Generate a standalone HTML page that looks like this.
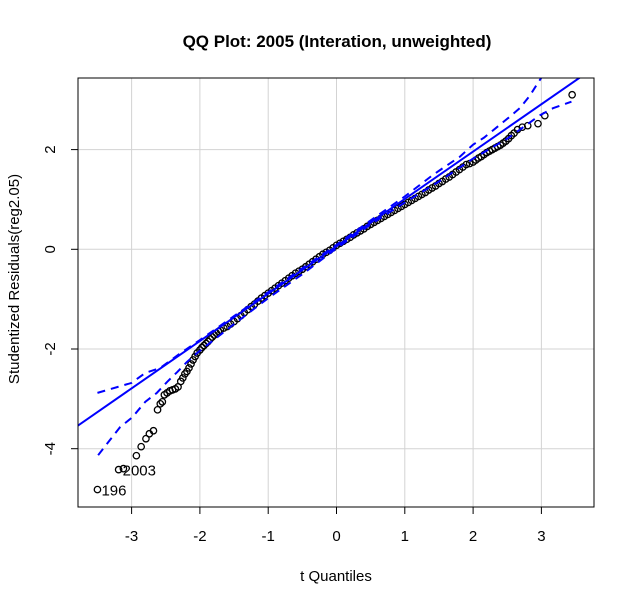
<!DOCTYPE html>
<html><head><meta charset="utf-8"><style>
body{margin:0;background:#fff;}
svg{display:block;font-family:"Liberation Sans",Arial,sans-serif;}
</style></head><body>
<svg id="chart" width="635" height="604">
<rect width="635" height="604" fill="#fff"/>
<text x="337" y="47" text-anchor="middle" font-size="17" font-weight="bold">QQ Plot: 2005 (Interation, unweighted)</text>
<text x="336" y="581" text-anchor="middle" font-size="15">t Quantiles</text>
<text transform="translate(19,279) rotate(-90)" text-anchor="middle" font-size="15">Studentized Residuals(reg2.05)</text>
<g id="grid"></g><g id="axes"></g>
<defs><clipPath id="clip"><rect x="78" y="78" width="516" height="429"/></clipPath></defs>
<g id="pts"></g>
<g id="marks" clip-path="url(#clip)"></g>
<g id="labels"></g>
<rect x="78" y="78" width="516" height="429" fill="none" stroke="#000"/>
</svg>
<script>
const xTicks=[-3,-2,-1,0,1,2,3];
const yTicks=[-4,-2,0,2];
const lineIntercept=0.06, lineSlope=0.95;
const upperX=[-3.5,-3.2,-3,-2.8,-2.58,-2.3,-2,-1.5,-1,-0.5,0,0.5,1,1.41,1.58,1.8,2,2.16,2.34,2.52,2.69,2.83,2.95,3.05];
const upperY=[-2.88,-2.76,-2.68,-2.48,-2.38,-2.1,-1.82,-1.34,-0.86,-0.38,0.09,0.58,1.06,1.49,1.65,1.85,2.1,2.24,2.44,2.64,2.84,3.08,3.34,3.55];
const lowerX=[-3.49,-3.32,-3.17,-2.99,-2.8,-2.63,-2.48,-2.33,-2.19,-2.04,-1.5,-1,-0.5,0,0.5,1,1.5,2,2.5,2.98,3.17,3.44];
const lowerY=[-4.13,-3.83,-3.57,-3.37,-3.06,-2.88,-2.66,-2.46,-2.26,-2.08,-1.5,-0.98,-0.5,0.02,0.5,0.94,1.36,1.82,2.22,2.69,2.83,2.96];
const ptX=[-3.5,-3.19,-3.12,-2.93,-2.86,-2.79,-2.74,-2.68,-2.62,-2.58,-2.55,-2.52,-2.48,-2.44,-2.4,-2.36,-2.32,-2.28,-2.25,-2.22,-2.19,-2.16,-2.13,-2.1,-2.07,-2.04,-2.0,-1.97,-1.94,-1.91,-1.88,-1.85,-1.82,-1.79,-1.76,-1.73,-1.7,-1.65,-1.6,-1.55,-1.5,-1.45,-1.4,-1.35,-1.3,-1.25,-1.2,-1.15,-1.1,-1.05,-1.0,-0.95,-0.9,-0.85,-0.8,-0.75,-0.7,-0.65,-0.6,-0.55,-0.5,-0.45,-0.4,-0.35,-0.3,-0.25,-0.2,-0.15,-0.1,-0.05,0,0.05,0.1,0.15,0.2,0.25,0.3,0.35,0.4,0.45,0.5,0.55,0.6,0.65,0.7,0.75,0.8,0.85,0.9,0.95,1.0,1.05,1.1,1.15,1.2,1.25,1.3,1.35,1.4,1.45,1.5,1.55,1.6,1.65,1.7,1.75,1.8,1.85,1.9,1.95,2.0,2.04,2.08,2.12,2.16,2.2,2.24,2.28,2.32,2.36,2.4,2.44,2.48,2.52,2.56,2.6,2.65,2.72,2.8,2.95,3.05,3.45];
const ptY=[-4.82,-4.42,-4.4,-4.14,-3.96,-3.8,-3.7,-3.64,-3.22,-3.1,-3.06,-2.92,-2.88,-2.84,-2.82,-2.8,-2.76,-2.65,-2.58,-2.5,-2.45,-2.38,-2.3,-2.22,-2.15,-2.08,-2.02,-1.97,-1.93,-1.89,-1.85,-1.8,-1.76,-1.72,-1.68,-1.65,-1.62,-1.58,-1.55,-1.5,-1.45,-1.39,-1.33,-1.27,-1.21,-1.15,-1.1,-1.04,-0.98,-0.93,-0.88,-0.83,-0.78,-0.73,-0.68,-0.63,-0.58,-0.53,-0.48,-0.44,-0.4,-0.35,-0.3,-0.25,-0.2,-0.15,-0.1,-0.06,-0.02,0.03,0.08,0.12,0.16,0.2,0.24,0.29,0.33,0.37,0.41,0.46,0.5,0.54,0.58,0.62,0.66,0.7,0.74,0.78,0.82,0.86,0.9,0.94,0.98,1.02,1.06,1.1,1.14,1.19,1.23,1.27,1.32,1.36,1.41,1.45,1.5,1.55,1.6,1.65,1.7,1.72,1.75,1.79,1.83,1.86,1.9,1.94,1.97,2.0,2.03,2.06,2.09,2.13,2.17,2.22,2.28,2.33,2.4,2.45,2.48,2.52,2.68,3.1];
const labelIdx=[0,1];
const labelText=["196","2003"];
const NS="http://www.w3.org/2000/svg";
const X=t=>336.5+t*68.3, Y=v=>249.3-v*49.85;
function mk(tag,attrs,parent){const e=document.createElementNS(NS,tag);for(const k in attrs)e.setAttribute(k,attrs[k]);parent.appendChild(e);return e;}
const grid=document.getElementById('grid'),axes=document.getElementById('axes'),marks=document.getElementById('marks'),pts=document.getElementById('pts'),labels=document.getElementById('labels');
xTicks.forEach(t=>{
 const g=mk('line',{x1:X(t),x2:X(t),y1:78,y2:507,stroke:'#d3d3d3'},grid);
 
 
 const tk=mk('line',{x1:X(t),x2:X(t),y1:507,y2:514,stroke:'#000'},axes);
 
 
 const l=mk('text',{x:X(t),y:541,'text-anchor':'middle','font-size':'15'},axes);l.textContent=t;
 
 
});
yTicks.forEach(v=>{
 const g=mk('line',{x1:78,x2:594,y1:Y(v),y2:Y(v),stroke:'#d3d3d3'},grid);
 
 
 const tk=mk('line',{x1:71,x2:78,y1:Y(v),y2:Y(v),stroke:'#000'},axes);
 
 
 const l=mk('text',{'text-anchor':'middle','font-size':'15',transform:`translate(55,${Y(v)}) rotate(-90)`},axes);l.textContent=v;
 
 
});
ptX.forEach((x,i)=>{const c=mk('circle',{cx:X(x),cy:Y(ptY[i]),r:3.2,fill:'none',stroke:'#000','stroke-width':1.3},pts);
 
 });
const fl=mk('line',{x1:X(-4),y1:Y(lineIntercept+lineSlope*-4),x2:X(4),y2:Y(lineIntercept+lineSlope*4),stroke:'#0000ff','stroke-width':2},marks);


function env(xs,ys,name){const p=mk('polyline',{points:xs.map((x,i)=>X(x)+','+Y(ys[i])).join(' '),fill:'none',stroke:'#0000ff','stroke-width':2,'stroke-dasharray':'8,6'},marks);
 
 }
env(upperX,upperY,'upper-envelope');env(lowerX,lowerY,'lower-envelope');
labelIdx.forEach((idx,j)=>{const l=mk('text',{x:X(ptX[idx])+4,y:Y(ptY[idx])+6,'font-size':'15'},labels);l.textContent=labelText[j];
 
 });
</script>
</body></html>
